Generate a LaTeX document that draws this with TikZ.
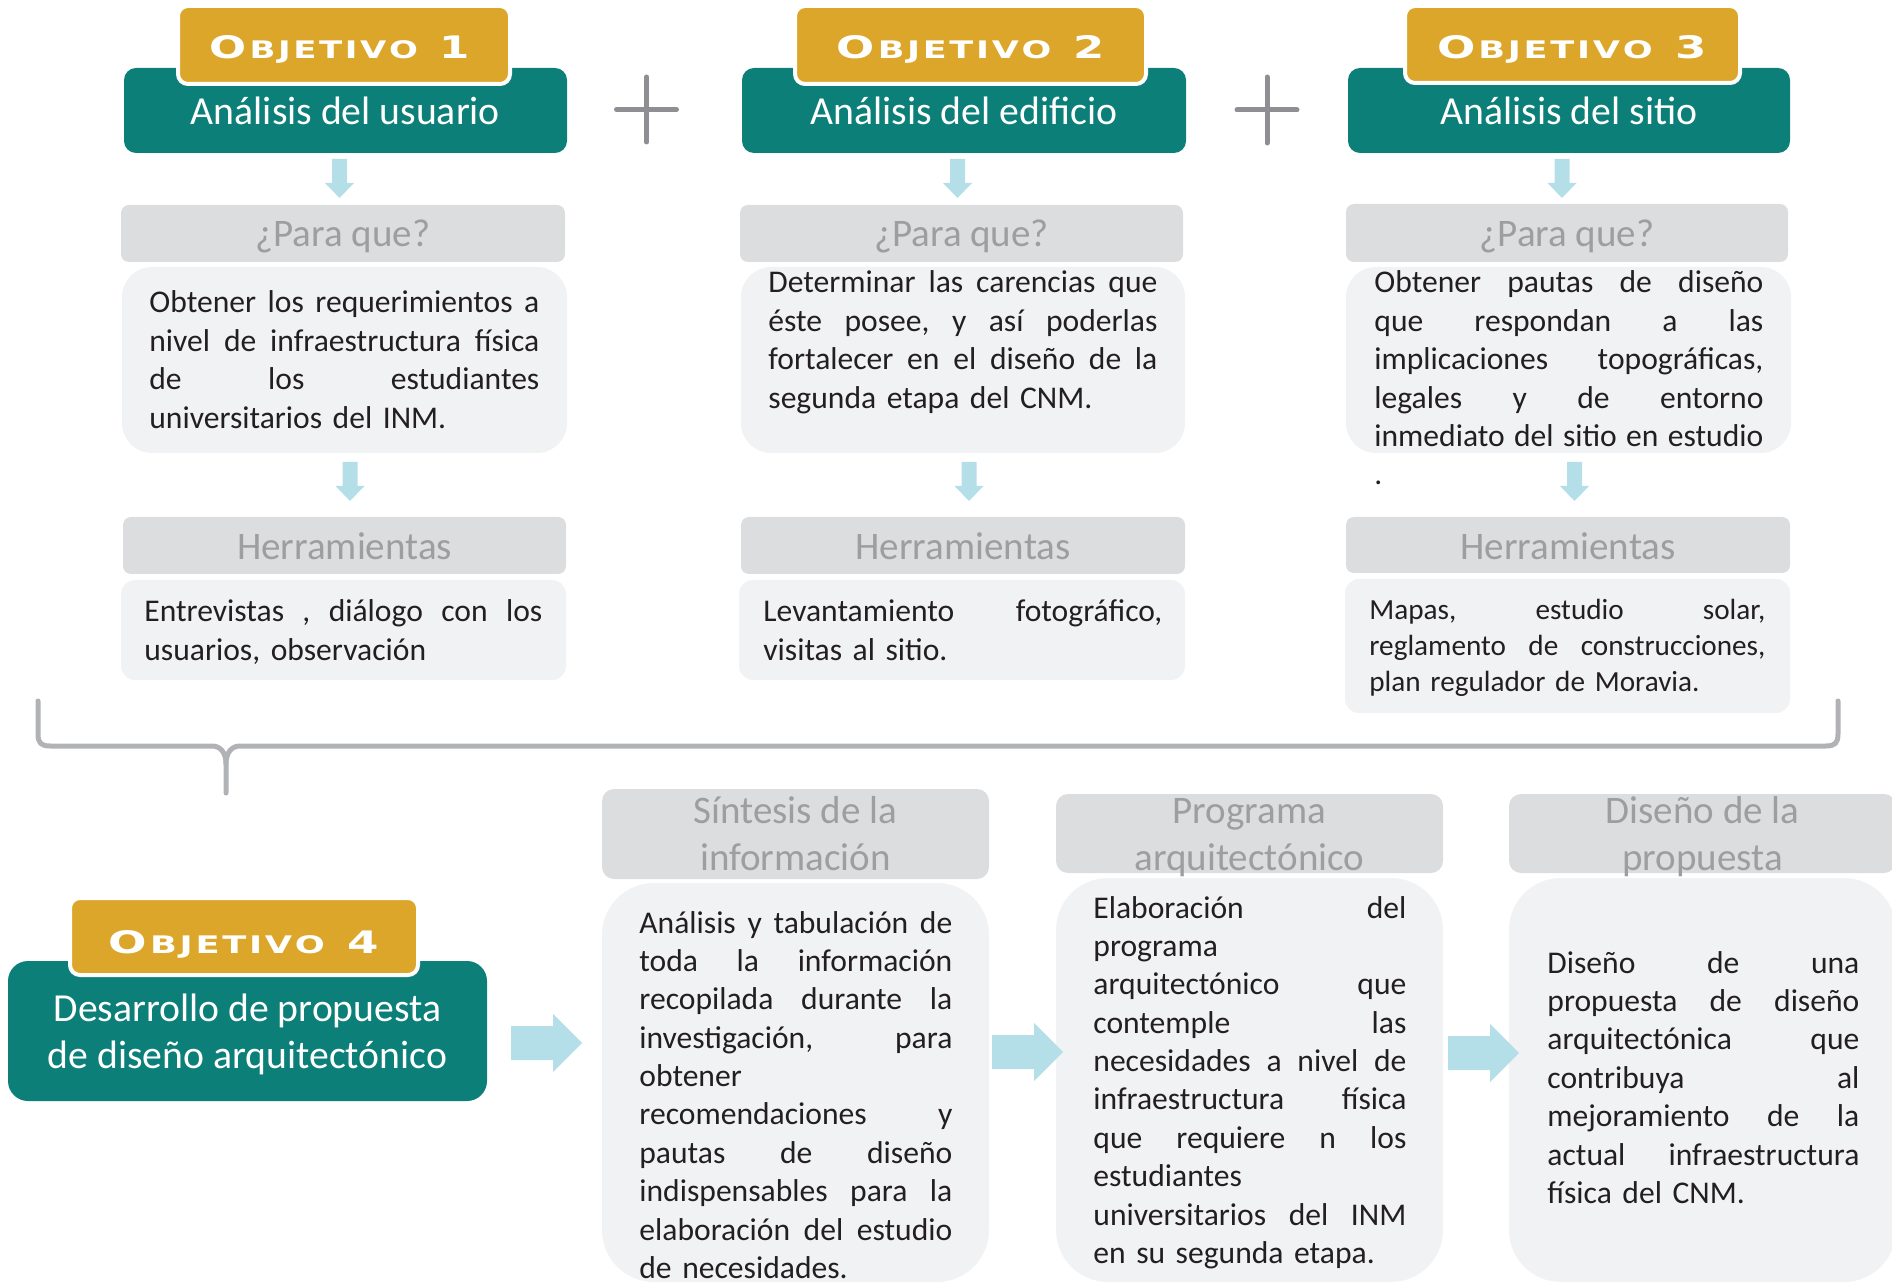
\documentclass[tikz,border=0pt]{standalone}
\usepackage{fontspec}
\usepackage{graphicx}
\setmainfont{Carlito}
\newfontfamily\objfont{DejaVu Sans}
\usetikzlibrary{fit,calc}

\definecolor{goldc}{HTML}{DBA62A}
\definecolor{tealc}{HTML}{0C7F79}
\definecolor{hdrc}{HTML}{DCDDDF}
\definecolor{hdrtextc}{HTML}{9D9EA0}
\definecolor{bodyc}{HTML}{F1F2F4}
\definecolor{arrowc}{HTML}{B5DFE8}
\definecolor{bracec}{HTML}{B1B2B5}
\definecolor{plusc}{HTML}{8F8F93}
\definecolor{txtc}{HTML}{231F20}

% justified line / natural line inside a text block
\newcommand\jl[1]{\hbox to\linewidth{\frenchspacing\spaceskip=.226em plus 1fil minus .05em\relax #1}}
\newcommand\nl[1]{\hbox{#1}}
\newcommand\lines[1]{\vtop{#1}}
% wide small-caps label of an objective
\newcommand\objlab[2]{\resizebox{#1}{11.5pt}{\objfont\bfseries\fontsize{10}{10}\selectfont O\kern.6pt{\fontsize{7.8}{7.8}\selectfont B\kern.6pt J\kern.6pt E\kern.6pt T\kern.6pt I\kern.6pt V\kern.6pt O}\kern5pt #2}}
% block arrows
\newcommand\darrow[1]{\fill[arrowc] ($(#1)+(-7.5,0)$) -- ++(15,0) -- ++(0,24) -- ++(7,0) -- ++(-14.5,15) -- ++(-14.5,-15) -- ++(7,0) -- cycle;}
\newcommand\rarrow[1]{\fill[arrowc] ($(#1)+(0,-17)$) -- ++(42,0) -- ++(0,-12) -- ++(29,29) -- ++(-29,29) -- ++(0,-12) -- ++(-42,0) -- cycle;}

\begin{document}
\begin{tikzpicture}[x=0.5pt,y=-0.5pt,
  tealbox/.style={fill=tealc, rounded corners=6pt, inner sep=0pt},
  goldbox/.style={fill=goldc, draw=white, line width=2pt, rounded corners=5pt, inner sep=1pt},
  hdrbox/.style={fill=hdrc, rounded corners=4pt, inner sep=0pt},
  descbox/.style={fill=bodyc, rounded corners=15pt, inner sep=0pt},
  toolbox/.style={fill=bodyc, rounded corners=7pt, inner sep=0pt},
  bighdr/.style={fill=hdrc, rounded corners=6pt, inner sep=0pt},
  bigbody/.style={fill=bodyc, rounded corners=26pt, inner sep=0pt},
  titletxt/.style={text=white, font=\fontsize{19.85}{23.5}\selectfont, inner sep=0pt, anchor=base, align=center},
  labtxt/.style={text=white, inner sep=0pt, anchor=base},
  hdrtxt/.style={text=hdrtextc, font=\fontsize{19.5}{23.5}\selectfont, inner sep=0pt, anchor=base, align=center},
  bodytxt/.style={text=txtc, font=\fontsize{15.8}{19.2}\selectfont, inner sep=0pt, anchor=base west},
  smalltxt/.style={text=txtc, font=\fontsize{14.6}{17.8}\selectfont, inner sep=0pt, anchor=base west},
  plusmark/.style={draw=plusc, line width=2.5pt, line cap=round},
  bracestroke/.style={draw=bracec, line width=2.5pt, line cap=round, line join=round}]

\useasboundingbox (0,0) rectangle (1892,1283);
\clip (0,0) rectangle (1892,1283);

% ---------- Objetivo 1 ----------
\node[tealbox, fit={(124,68) (567,153)}] (teal1) {};
\node[goldbox, fit={(180,8) (508,82)}] (gold1) {};
\node[labtxt] (lab1) at (340,59) {\objlab{130pt}{1}};
\node[titletxt] (tit1) at (345.5,125) {Análisis del usuario};
\darrow{339.5,159}
\node[hdrbox, fit={(121,205) (565,262)}] (hdr1) {};
\node[hdrtxt] (hdrt1) at (343,247) {¿Para que?};
\node[descbox, fit={(122,267) (567,453)}] (desc1) {};
\node[bodytxt, text width=195pt] (dt1) at (149,313) {\lines{\jl{Obtener los requerimientos a}\jl{nivel de infraestructura física}\jl{de los estudiantes}\nl{universitarios del INM.}}};
\darrow{350,462}
\node[hdrbox, fit={(123,517) (566,574)}] (herr1) {};
\node[hdrtxt] (herrt1) at (344.5,560) {Herramientas};
\node[toolbox, fit={(121,580) (566,680)}] (tool1) {};
\node[bodytxt, text width=199pt] (tt1) at (144,622) {\lines{\jl{Entrevistas , diálogo con los}\nl{usuarios, observación}}};

% ---------- Objetivo 2 ----------
\node[tealbox, fit={(742,68) (1186,153)}] (teal2) {};
\node[goldbox, fit={(797,8) (1144,82)}] (gold2) {};
\node[labtxt] (lab2) at (971,59) {\objlab{134pt}{2}};
\node[titletxt] (tit2) at (964,125) {Análisis del edificio};
\darrow{957.5,159}
\node[hdrbox, fit={(740,205) (1183,262)}] (hdr2) {};
\node[hdrtxt] (hdrt2) at (961.5,247) {¿Para que?};
\node[descbox, fit={(741,267) (1185,453)}] (desc2) {};
\node[bodytxt, text width=194.5pt] (dt2) at (768,293) {\lines{\jl{Determinar las carencias que}\jl{éste posee, y así poderlas}\jl{fortalecer en el diseño de la}\nl{segunda etapa del CNM.}}};
\darrow{969,462}
\node[hdrbox, fit={(741,517) (1185,574)}] (herr2) {};
\node[hdrtxt] (herrt2) at (963,560) {Herramientas};
\node[toolbox, fit={(739,580) (1185,680)}] (tool2) {};
\node[bodytxt, text width=199.5pt] (tt2) at (763,622) {\lines{\jl{Levantamiento fotográfico,}\nl{visitas al sitio.}}};

% ---------- Objetivo 3 ----------
\node[tealbox, fit={(1348,68) (1790,153)}] (teal3) {};
\node[goldbox, fit={(1407,8) (1738,81)}] (gold3) {};
\node[labtxt] (lab3) at (1572,59) {\objlab{134.5pt}{3}};
\node[titletxt] (tit3) at (1569,125) {Análisis del sitio};
\darrow{1562,159}
\node[hdrbox, fit={(1346,204) (1788,262)}] (hdr3) {};
\node[hdrtxt] (hdrt3) at (1567,247) {¿Para que?};
\node[descbox, fit={(1346,267) (1791,453)}] (desc3) {};
\node[bodytxt, text width=194.5pt] (dt3) at (1374,293) {\lines{\jl{Obtener pautas de diseño}\jl{que respondan a las}\jl{implicaciones topográficas,}\jl{legales y de entorno}\jl{inmediato del sitio en estudio}\nl{.}}};
\darrow{1574.5,462}
\node[hdrbox, fit={(1346,517) (1790,573)}] (herr3) {};
\node[hdrtxt] (herrt3) at (1568,560) {Herramientas};
\node[toolbox, fit={(1345,579) (1790,713)}] (tool3) {};
\node[smalltxt, text width=198pt] (tt3) at (1369,620) {\lines{\jl{Mapas, estudio solar,}\jl{reglamento de construcciones,}\nl{plan regulador de Moravia.}}};

% plus signs between the first three objectives
\draw[plusmark] (616.5,109.5) -- (676.5,109.5) (646.5,77) -- (646.5,142);
\draw[plusmark] (1237,110) -- (1297,110) (1267,77) -- (1267,143);

% brace gathering the three analyses
\draw[bracestroke] (38,701) -- (38,734) .. controls (38,743) and (41,746) .. (50,746) -- (212,746) .. controls (220,746) and (226,752) .. (226,764) -- (226,793);
\draw[bracestroke] (226,764) .. controls (226,752) and (232,746) .. (240,746) -- (1826,746) .. controls (1835,746) and (1838,743) .. (1838,734) -- (1838,701);

% ---------- Objetivo 4 ----------
\node[tealbox, rounded corners=10pt, fit={(8,961) (487,1101)}] (teal4) {};
\node[goldbox, fit={(72,900) (416,973)}] (gold4) {};
\node[labtxt] (lab4) at (244,953) {\objlab{135pt}{4}};
\node[titletxt] (tit4) at (247.5,1068) {Desarrollo de propuesta\\de diseño arquitectónico};

% synthesis
\node[bighdr, fit={(602,789) (989,879)}] (shdr) {};
\node[bigbody, fit={(602,883) (989,1282)}] (sbody) {};
\node[hdrtxt] (shdrt) at (795.5,870) {Síntesis de la\\información};
\node[bodytxt, text width=156.5pt] (sbt) at (639,933) {\lines{\jl{Análisis y tabulación de}\jl{toda la información}\jl{recopilada durante la}\jl{investigación, para}\nl{obtener}\jl{recomendaciones y}\jl{pautas de diseño}\jl{indispensables para la}\jl{elaboración del estudio}\nl{de necesidades.}}};

% architectural programme
\node[bighdr, fit={(1056,794) (1443,873)}] (phdr) {};
\node[bigbody, fit={(1056,878) (1443,1282)}] (pbody) {};
\node[hdrtxt] (phdrt) at (1249.5,870) {Programa\\arquitectónico};
\node[bodytxt, text width=156.5pt] (pbt) at (1093,918) {\lines{\jl{Elaboración del}\nl{programa}\jl{arquitectónico que}\jl{contemple las}\jl{necesidades a nivel de}\jl{infraestructura física}\jl{que requiere n los}\nl{estudiantes}\jl{universitarios del INM}\nl{en su segunda etapa.}}};

% design proposal
\node[bighdr, fit={(1509,794) (1896,873)}] (dhdr) {};
\node[bigbody, fit={(1509,878) (1896,1282)}] (dbody) {};
\node[hdrtxt] (dhdrt) at (1702.5,870) {Diseño de la\\propuesta};
\node[bodytxt, text width=156pt] (dbt) at (1547,973) {\lines{\jl{Diseño de una}\jl{propuesta de diseño}\jl{arquitectónica que}\jl{contribuya al}\jl{mejoramiento de la}\jl{actual infraestructura}\nl{física del CNM.}}};

% flow arrows along the lower row, drawn over the boxes
\rarrow{511,1043}
\rarrow{992,1052}
\rarrow{1448,1053}

\end{tikzpicture}
\end{document}
